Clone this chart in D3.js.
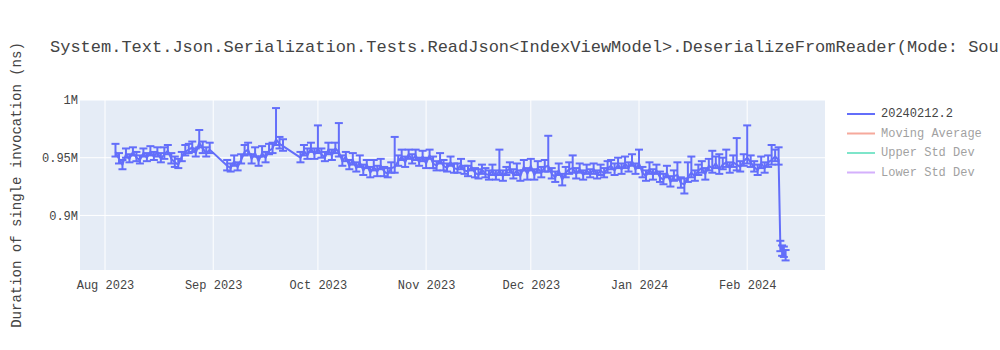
<!DOCTYPE html>
<html>
<head>
<meta charset="utf-8">
<script src="https://cdn.jsdelivr.net/npm/d3@7"></script>
<style>
  html, body { margin: 0; padding: 0; background: #fff; overflow: hidden; }
  svg { display: block; }
  text { font-family: "Liberation Mono", "Courier New", monospace; }
</style>
</head>
<body>
<svg id="chart" width="1000" height="350"></svg>
<script>
// ---------------- DATA ----------------
const chartTitle = "System.Text.Json.Serialization.Tests.ReadJson<IndexViewModel>.DeserializeFromReader(Mode: SourceGen)";
const yAxisTitle = "Duration of single invocation (ns)";
const legendNames = ["20240212.2", "Moving Average", "Upper Std Dev", "Lower Std Dev"];

const dates = [
  "2023-08-04","2023-08-05","2023-08-06","2023-08-07","2023-08-08","2023-08-09","2023-08-10","2023-08-11",
  "2023-08-12","2023-08-13","2023-08-14","2023-08-15","2023-08-16","2023-08-17","2023-08-18","2023-08-19",
  "2023-08-20","2023-08-21","2023-08-22","2023-08-23","2023-08-24","2023-08-25","2023-08-26","2023-08-27",
  "2023-08-28","2023-08-29","2023-08-30","2023-08-31",
  "2023-09-05","2023-09-06","2023-09-07","2023-09-08","2023-09-09","2023-09-10","2023-09-11","2023-09-12",
  "2023-09-13","2023-09-14","2023-09-15","2023-09-16","2023-09-17","2023-09-18","2023-09-19","2023-09-20",
  "2023-09-21",
  "2023-09-26","2023-09-27","2023-09-28","2023-09-29","2023-09-30",
  "2023-10-01","2023-10-02","2023-10-03","2023-10-04","2023-10-05","2023-10-06","2023-10-07","2023-10-08",
  "2023-10-09","2023-10-10","2023-10-11","2023-10-12","2023-10-13","2023-10-14","2023-10-15","2023-10-16",
  "2023-10-17","2023-10-18","2023-10-19","2023-10-20","2023-10-21","2023-10-22","2023-10-23","2023-10-24",
  "2023-10-25","2023-10-26","2023-10-27","2023-10-28","2023-10-29","2023-10-30","2023-10-31",
  "2023-11-01","2023-11-02","2023-11-03","2023-11-04","2023-11-05","2023-11-06","2023-11-07","2023-11-08",
  "2023-11-09","2023-11-10","2023-11-11","2023-11-12","2023-11-13","2023-11-14","2023-11-15","2023-11-16",
  "2023-11-17","2023-11-18","2023-11-19","2023-11-20","2023-11-21","2023-11-22","2023-11-23","2023-11-24",
  "2023-11-25","2023-11-26","2023-11-27","2023-11-28","2023-11-29","2023-11-30",
  "2023-12-01","2023-12-02","2023-12-03","2023-12-04","2023-12-05","2023-12-06","2023-12-07","2023-12-08",
  "2023-12-09","2023-12-10","2023-12-11","2023-12-12","2023-12-13","2023-12-14","2023-12-15","2023-12-16",
  "2023-12-17","2023-12-18","2023-12-19","2023-12-20","2023-12-21","2023-12-22","2023-12-23","2023-12-24",
  "2023-12-25","2023-12-26","2023-12-27","2023-12-28","2023-12-29","2023-12-30","2023-12-31",
  "2024-01-01","2024-01-02","2024-01-03","2024-01-04","2024-01-05","2024-01-06","2024-01-07","2024-01-08",
  "2024-01-09","2024-01-10","2024-01-11","2024-01-12","2024-01-13","2024-01-14","2024-01-15","2024-01-16",
  "2024-01-17","2024-01-18","2024-01-19","2024-01-20","2024-01-21","2024-01-22","2024-01-23","2024-01-24",
  "2024-01-25","2024-01-26","2024-01-27","2024-01-28","2024-01-29","2024-01-30","2024-01-31",
  "2024-02-01","2024-02-02","2024-02-03","2024-02-04","2024-02-05","2024-02-06","2024-02-07","2024-02-08",
  "2024-02-09","2024-02-10T00:00","2024-02-10T12:00","2024-02-11T00:00","2024-02-11T12:00","2024-02-12T00:00"
];

// mean duration, thousands of ns
const meansK = [
  955,949,944,953,949,955,950,948,
  954,950,955,951,955,949,953,956,
  949,946,944,951,955,957,959,954,
  963,958,954,957,
  943,941,947,942,948,955,957,949,
  954,947,954,950,956,958,966,962,
  960,
  950,956,952,958,953,
  958,953,950,957,952,958,955,947,
  951,943,948,941,946,939,944,937,
  942,938,943,938,936,941,942,947,
  951,946,953,948,952,946,951,
  945,952,945,943,948,943,941,946,
  941,940,944,939,938,942,937,935,
  940,936,935,939,934,939,934,938,
  941,935,939,934,942,936,
  943,935,941,937,942,943,936,933,
  939,931,937,940,941,936,940,935,
  939,936,940,935,939,936,941,943,
  939,944,940,945,941,947,940,
  945,937,934,940,935,939,933,931,
  937,929,934,935,928,927,933,937,
  934,939,941,936,943,941,945,940,
  944,946,941,946,944,942,947,
  950,946,942,939,945,941,946,948,
  951,948,873,869,868,865
];

// error bar extents above / below the mean, thousands of ns
const errPlusK = [
  7,5,4,5,4,4,5,4,
  4,4,5,4,4,5,6,5,
  5,5,5,4,6,5,5,4,
  11,6,5,6,
  5,4,5,4,5,6,6,4,
  5,4,6,5,6,5,27,6,
  6,
  5,5,6,5,5,
  20,5,5,6,5,5,25,5,
  4,5,6,5,6,5,4,5,
  6,5,6,4,5,5,26,5,
  6,5,4,5,5,4,5,
  5,5,6,4,6,5,4,5,
  4,5,5,4,5,5,4,5,
  4,5,4,5,5,18,5,4,
  5,5,6,5,6,5,
  6,5,6,5,6,26,5,5,
  6,5,5,6,11,5,5,4,
  5,4,5,4,5,5,6,5,
  6,6,5,6,5,6,5,
  12,5,5,6,5,5,5,5,
  6,5,5,11,5,5,13,14,
  5,5,6,5,6,15,6,13,
  6,11,5,6,23,5,6,
  28,6,5,5,6,5,6,13,
  6,11,5,5,5,5
];
const errMinusK = [
  4,4,4,3,3,3,3,3,
  3,3,3,3,4,3,4,3,
  4,4,3,4,3,3,4,3,
  4,4,3,3,
  4,3,4,3,3,3,4,4,
  3,4,3,4,3,4,5,4,
  4,
  4,4,3,3,4,
  4,3,3,4,4,4,4,4,
  4,3,4,3,4,4,3,4,
  3,4,3,4,3,4,5,4,
  3,4,4,3,4,3,4,
  4,3,4,4,3,4,3,3,
  4,3,4,3,4,3,4,3,
  4,3,4,4,3,4,4,3,
  4,3,4,4,3,5,
  4,4,4,4,4,5,4,4,
  4,5,4,4,4,4,3,4,
  3,3,4,3,4,3,4,3,
  4,3,4,4,3,4,4,
  4,4,4,4,4,3,4,4,
  4,4,4,4,4,8,4,4,
  4,4,4,5,4,4,4,4,
  4,4,4,4,5,4,4,
  5,4,4,4,4,4,4,4,
  4,4,4,4,4,4
];

const yTickValues = [900000, 950000, 1000000];
const yTickLabels = ["0.9M", "0.95M", "1M"];
const xTickDates = ["2023-08-01","2023-09-01","2023-10-01","2023-11-01","2023-12-01","2024-01-01","2024-02-01"];
const xTickLabels = ["Aug 2023","Sep 2023","Oct 2023","Nov 2023","Dec 2023","Jan 2024","Feb 2024"];
const xDomain = ["2023-07-24T20:00", "2024-02-23T07:00"];
const yDomain = [852700, 1000000];

// ---------------- CHART ----------------
const W = 1000, H = 350;
const M = { left: 80, top: 100, right: 175, bottom: 80 };
const pw = W - M.left - M.right, ph = H - M.top - M.bottom;
const C = { line: "#636efa", ma: "#EF553B", up: "#00cc96", lo: "#ab63fa", text: "#444", bg: "#e5ecf6" };

const parse = s => new Date(s.length > 10 ? s : s + "T00:00");
const data = dates.map((d, i) => ({
  t: parse(d), v: meansK[i] * 1000, hi: (meansK[i] + errPlusK[i]) * 1000, lo: (meansK[i] - errMinusK[i]) * 1000
}));

const svg = d3.select("#chart");
const x = d3.scaleTime().domain(xDomain.map(parse)).range([M.left, M.left + pw]);
const y = d3.scaleLinear().domain(yDomain).range([M.top + ph, M.top]);

svg.append("rect").attr("x", M.left).attr("y", M.top).attr("width", pw).attr("height", ph).attr("fill", C.bg);

// grid
const xTicks = xTickDates.map(parse);
svg.append("g").selectAll("line").data(xTicks).join("line")
  .attr("x1", d => x(d)).attr("x2", d => x(d)).attr("y1", M.top).attr("y2", M.top + ph)
  .attr("stroke", "#fff").attr("stroke-width", 1);
svg.append("g").selectAll("line").data(yTickValues).join("line")
  .attr("x1", M.left).attr("x2", M.left + pw).attr("y1", d => y(d)).attr("y2", d => y(d))
  .attr("stroke", "#fff").attr("stroke-width", 1);

// axes via d3
const xAxis = d3.axisBottom(x).tickValues(xTicks).tickSize(0).tickPadding(10)
  .tickFormat((d, i) => xTickLabels[i]);
const gx = svg.append("g").attr("transform", `translate(0,${M.top + ph})`).call(xAxis);
gx.select(".domain").remove();
gx.selectAll("text").attr("fill", C.text).style("font-size", "12px").style("font-family", '"Liberation Mono", monospace');

const yAxis = d3.axisLeft(y).tickValues(yTickValues).tickSize(0).tickPadding(2)
  .tickFormat((d, i) => yTickLabels[i]);
const gy = svg.append("g").attr("transform", `translate(${M.left},0)`).call(yAxis);
gy.select(".domain").remove();
gy.selectAll("text").attr("fill", C.text).style("font-size", "12px").style("font-family", '"Liberation Mono", monospace');

// clip
svg.append("clipPath").attr("id", "clip").append("rect")
  .attr("x", M.left).attr("y", M.top).attr("width", pw).attr("height", ph);
const plot = svg.append("g").attr("clip-path", "url(#clip)");

// error bars
const capHalf = 4;
const eb = plot.append("g").attr("stroke", C.line).attr("stroke-width", 2).attr("fill", "none");
const ebg = eb.selectAll("g").data(data).join("g");
ebg.append("line").attr("x1", d => x(d.t)).attr("x2", d => x(d.t)).attr("y1", d => y(d.lo)).attr("y2", d => y(d.hi));
ebg.append("line").attr("x1", d => x(d.t) - capHalf).attr("x2", d => x(d.t) + capHalf).attr("y1", d => y(d.hi)).attr("y2", d => y(d.hi));
ebg.append("line").attr("x1", d => x(d.t) - capHalf).attr("x2", d => x(d.t) + capHalf).attr("y1", d => y(d.lo)).attr("y2", d => y(d.lo));

// line
plot.append("path").datum(data)
  .attr("d", d3.line().x(d => x(d.t)).y(d => y(d.v)))
  .attr("fill", "none").attr("stroke", C.line).attr("stroke-width", 2).attr("stroke-linejoin", "round");

// title
svg.append("text").attr("x", 50).attr("y", 52).attr("fill", C.text)
  .style("font-size", "17px").text(chartTitle);

// y axis title
svg.append("text").attr("transform", `translate(17,${M.top + ph / 2}) rotate(-90)`)
  .attr("text-anchor", "middle").attr("dominant-baseline", "central")
  .attr("fill", C.text).style("font-size", "14px").text(yAxisTitle);

// legend
const legendColors = [C.line, C.ma, C.up, C.lo];
const legendOpacity = [1, 0.5, 0.5, 0.5];
const lg = svg.append("g").selectAll("g").data(legendNames).join("g")
  .attr("transform", (d, i) => `translate(847,${114 + i * 19.5})`)
  .attr("opacity", (d, i) => legendOpacity[i]);
lg.append("line").attr("x1", 0).attr("x2", 28).attr("y1", 0).attr("y2", 0)
  .attr("stroke", (d, i) => legendColors[i]).attr("stroke-width", 2);
lg.append("text").attr("x", 34).attr("y", 0).attr("dominant-baseline", "central")
  .attr("fill", C.text).style("font-size", "12px").text(d => d);
</script>
</body>
</html>
